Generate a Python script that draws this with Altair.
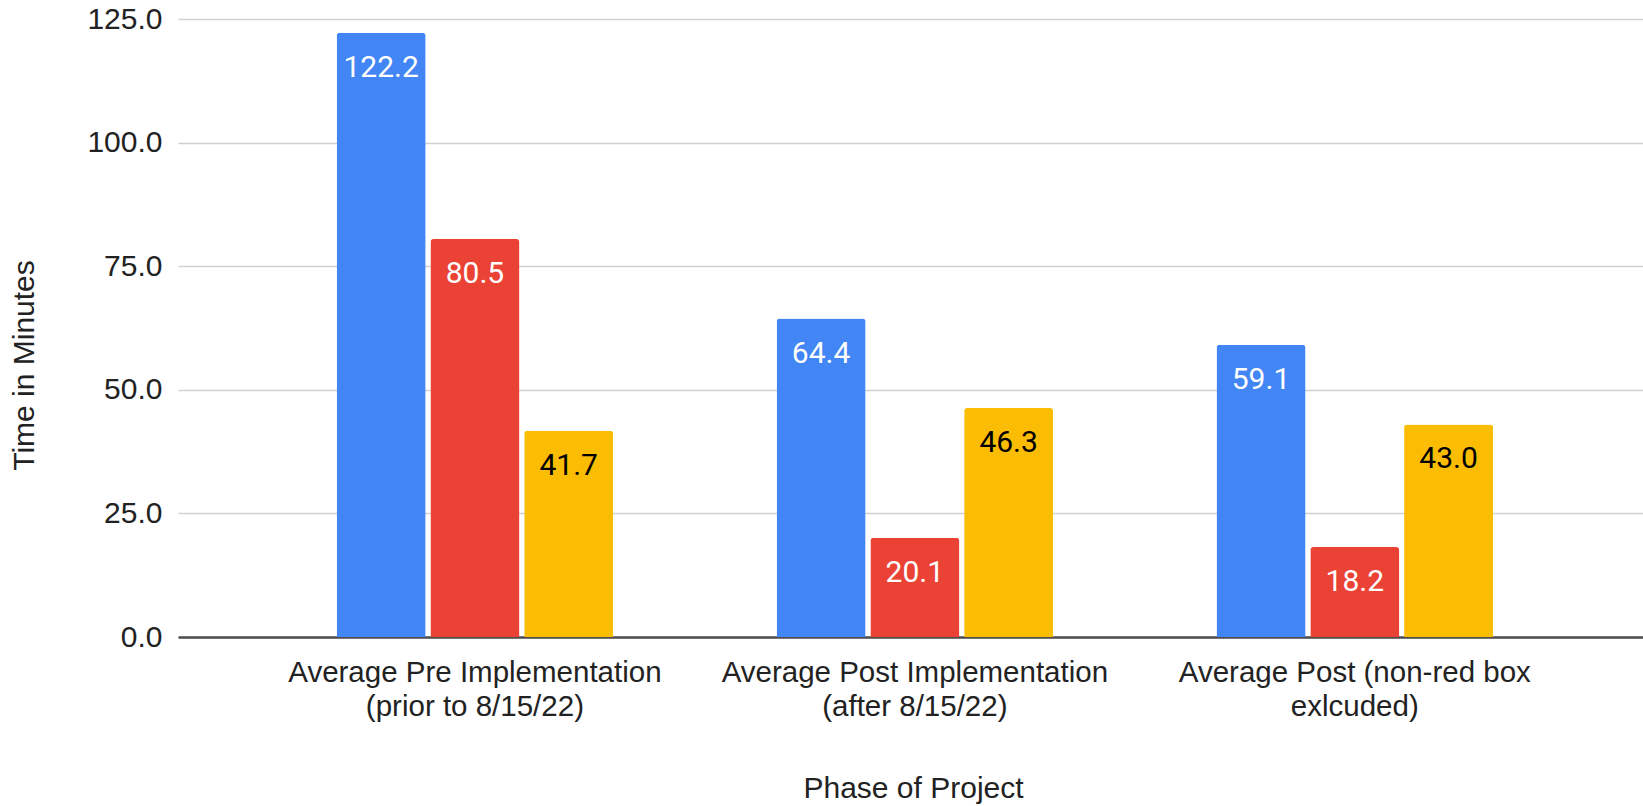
import altair as alt
import pandas as pd

categories = [
    "Average Pre Implementation\n(prior to 8/15/22)",
    "Average Post Implementation\n(after 8/15/22)",
    "Average Post (non-red box\nexlcuded)",
]
series = ["Series 1", "Series 2", "Series 3"]
series1 = [122.2, 64.4, 59.1]
series2 = [80.5, 20.1, 18.2]
series3 = [41.7, 46.3, 43.0]
y_ticks = [0, 25, 50, 75, 100, 125]

colors = ["#4285F4", "#EA4335", "#FBBC04"]

rows = []
for s, vals in zip(series, [series1, series2, series3]):
    for c, v in zip(categories, vals):
        rows.append({"phase": c, "series": s, "value": v})
df = pd.DataFrame(rows)

AXIS_FONT = "Liberation Sans"

x_enc = alt.X(
    "phase:N",
    sort=categories,
    scale=alt.Scale(paddingInner=0, paddingOuter=0.165, align=0.53),
    axis=alt.Axis(
        title="Phase of Project",
        labelAngle=0,
        labelExpr="split(datum.label, '\\n')",
        labelFont=AXIS_FONT,
        labelFontSize=29.5,
        labelLineHeight=34,
        labelColor="#222222",
        labelLimit=0,
        labelPadding=21,
        labelBaseline="top",
        ticks=False,
        domain=True,
        domainColor="#4d4d4d",
        domainWidth=2.5,
        titleFont=AXIS_FONT,
        titleFontSize=30,
        titleFontWeight="normal",
        titleColor="#222222",
        titleBaseline="alphabetic",
        titleY=160,
        titleX=735,
        grid=False,
    ),
)
xoff_enc = alt.XOffset(
    "series:N",
    sort=series,
    scale=alt.Scale(paddingInner=0.051, paddingOuter=0.871),
)
y_enc = alt.Y(
    "value:Q",
    scale=alt.Scale(domain=[0, 125], nice=False),
    axis=alt.Axis(
        title="Time in Minutes",
        values=y_ticks,
        format=".1f",
        labelFont=AXIS_FONT,
        labelFontSize=30,
        labelColor="#222222",
        labelPadding=16,
        ticks=False,
        domain=False,
        gridColor="#d0d0d0",
        gridWidth=1.5,
        titleFont=AXIS_FONT,
        titleFontSize=30,
        titleFontWeight="normal",
        titleColor="#222222",
        titleAngle=270,
        titleAlign="center",
        titleBaseline="middle",
        titleX=-154,
        titleY=346,
    ),
)

bars = alt.Chart(df).mark_bar(cornerRadiusTopLeft=3, cornerRadiusTopRight=3).encode(
    x=x_enc,
    xOffset=xoff_enc,
    y=y_enc,
    color=alt.Color("series:N", sort=series,
                    scale=alt.Scale(domain=series, range=colors), legend=None),
)

labels = alt.Chart(df).mark_text(
    font="Roboto", fontSize=30, baseline="alphabetic", align="center", dy=44
).encode(
    x=alt.X("phase:N", sort=categories),
    xOffset=alt.XOffset("series:N", sort=series),
    y=alt.Y("value:Q"),
    text=alt.Text("value:Q", format=".1f"),
    color=alt.condition(alt.datum.series == "Series 3", alt.value("#000000"), alt.value("#ffffff")),
)

chart = alt.layer(bars, labels).properties(
    width=1465,
    height=618,
    padding={"left": 178, "top": 19, "right": 0, "bottom": 169},
    autosize=alt.AutoSizeParams(type="none"),
    background="white",
).configure_view(stroke=None)

chart.save("out.html", embed_options={"renderer": "svg", "actions": False})
